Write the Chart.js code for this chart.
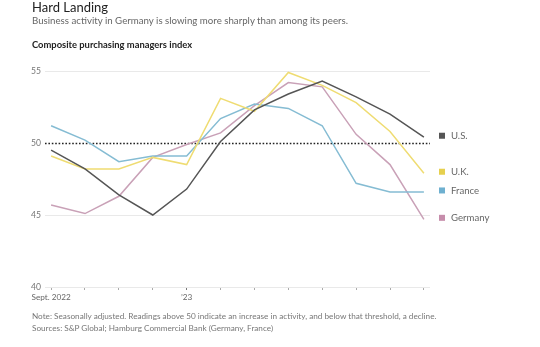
<!DOCTYPE html>
<html>
<head>
<meta charset="utf-8">
<script src="https://cdn.jsdelivr.net/npm/chart.js@4"></script>
<style>
  body { margin: 0; background: #fff; font-family: Lato, "Noto Sans", sans-serif; }
  #wrap { position: relative; width: 540px; height: 347px; overflow: hidden; }
  #chart { position: absolute; left: 0; top: 0; }
  .t { position: absolute; left: 32px; white-space: nowrap; }
  #title { top: 0px; font-size: 13px; color: #222; line-height: 14px; }
  #sub { top: 14px; font-size: 9.7px; color: #666; line-height: 12px; }
  #unit { top: 39px; font-size: 9.4px; font-weight: bold; color: #222; line-height: 12px; }
  #note { top: 311px; font-size: 8.2px; color: #777; line-height: 11px; }
  #src { top: 323px; font-size: 8.2px; color: #777; line-height: 11px; }
</style>
</head>
<body>
<div id="wrap">
  <canvas id="chart" width="540" height="347"></canvas>
  <div class="t" id="title">Hard Landing</div>
  <div class="t" id="sub">Business activity in Germany is slowing more sharply than among its peers.</div>
  <div class="t" id="unit">Composite purchasing managers index</div>
  <div class="t" id="note">Note: Seasonally adjusted. Readings above 50 indicate an increase in activity, and below that threshold, a decline.</div>
  <div class="t" id="src">Sources: S&amp;P Global; Hamburg Commercial Bank (Germany, France)</div>
</div>
<script>
const months = ["2022-09", "2022-10", "2022-11", "2022-12", "2023-01", "2023-02",
                "2023-03", "2023-04", "2023-05", "2023-06", "2023-07", "2023-08"];
const tickLabels = ["Sept. 2022", "", "", "", "\u201923", "", "", "", "", "", "", ""];

const us      = [49.5, 48.2, 46.4, 45.0, 46.8, 50.1, 52.3, 53.4, 54.3, 53.2, 52.0, 50.4];
const uk      = [49.1, 48.2, 48.2, 49.0, 48.5, 53.1, 52.2, 54.9, 54.0, 52.8, 50.8, 47.9];
const france  = [51.2, 50.2, 48.7, 49.1, 49.1, 51.7, 52.7, 52.4, 51.2, 47.2, 46.6, 46.6];
const germany = [45.7, 45.1, 46.3, 49.0, 49.9, 50.7, 52.6, 54.2, 53.9, 50.6, 48.5, 44.7];

const yTicks = [40, 45, 50, 55];

const series = [
  { label: "U.S.", values: us, color: "#555555", key: "#555555" },
  { label: "U.K.", values: uk, color: "#efdc72", key: "#e6d04e" },
  { label: "France", values: france, color: "#85bcd3", key: "#6eb0d0" },
  { label: "Germany", values: germany, color: "#c9a1b7", key: "#c68dab" }
];

// dotted reference line at 50 plus end-of-line labels
const extras = {
  id: "extras",
  beforeDatasetsDraw(chart) {
    const { ctx, chartArea, scales } = chart;
    const y = Math.round(scales.y.getPixelForValue(50)) + 0.5;
    ctx.save();
    ctx.strokeStyle = "#222";
    ctx.lineWidth = 1.6;
    ctx.setLineDash([1.6, 1.8]);
    ctx.beginPath();
    ctx.moveTo(chartArea.left, y);
    ctx.lineTo(chartArea.right, y);
    ctx.stroke();
    ctx.restore();
  },
  afterDatasetsDraw(chart) {
    const { ctx, chartArea, scales } = chart;
    ctx.save();
    ctx.font = "9.6px Lato, 'Noto Sans', sans-serif";
    ctx.textBaseline = "middle";
    series.forEach(s => {
      const y = scales.y.getPixelForValue(s.values[s.values.length - 1]) - 1.5;
      ctx.fillStyle = s.key;
      ctx.fillRect(chartArea.right + 9, y - 3, 6, 6);
      ctx.fillStyle = "#666";
      ctx.fillText(s.label, chartArea.right + 21, y);
    });
    ctx.restore();
  }
};

new Chart(document.getElementById("chart"), {
  type: "line",
  data: {
    labels: months,
    datasets: series.map(s => ({
      label: s.label,
      data: s.values.map((v, i) => ({ x: i, y: v })),
      borderColor: s.color,
      borderWidth: 1.5,
      pointRadius: 0,
      tension: 0,
      clip: false
    }))
  },
  options: {
    responsive: false,
    animation: false,
    layout: { padding: { top: 71, left: 0, right: 110, bottom: 40 } },
    plugins: { legend: { display: false }, tooltip: { enabled: false } },
    scales: {
      x: {
        type: "linear",
        min: -0.18,
        max: 11.18,
        afterBuildTicks: s => { s.ticks = months.map((m, i) => ({ value: i })); },
        afterFit: s => { s.height = 20; },
        border: { display: false },
        grid: {
          drawOnChartArea: false,
          drawTicks: true,
          tickLength: 3,
          tickColor: c => (c.index === 4 ? "#777" : "#aaa")
        },
        ticks: {
          autoSkip: false,
          maxRotation: 0,
          padding: 2,
          color: "#666",
          font: { family: "Lato", size: 8.2 },
          callback: v => tickLabels[v]
        }
      },
      y: {
        min: 40,
        max: 55,
        afterBuildTicks: s => { s.ticks = yTicks.map(v => ({ value: v })); },
        afterFit: s => { s.width = 45; },
        border: { display: false },
        grid: {
          drawTicks: false,
          lineWidth: 1,
          color: c => (c.tick && c.tick.value === 50 ? "rgba(0,0,0,0)" : "#e9e9e9")
        },
        ticks: {
          padding: 4,
          color: "#777",
          font: { family: "Lato", size: 8.6 }
        }
      }
    }
  },
  plugins: [extras]
});
</script>
</body>
</html>
